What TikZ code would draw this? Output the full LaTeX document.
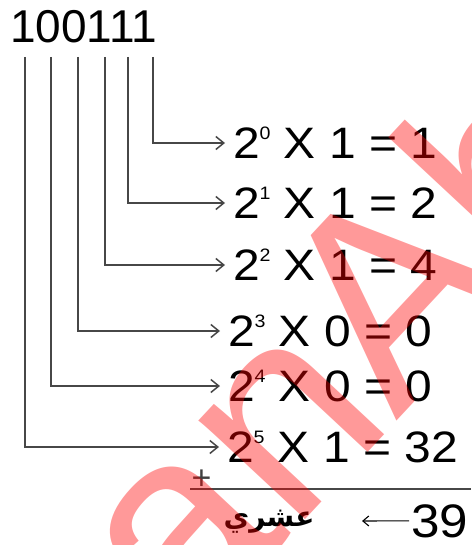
\documentclass[tikz,border=0pt]{standalone}
\usepackage{fontspec}
\setmainfont{Liberation Sans}
\newfontfamily\widefont[FakeStretch=1.09]{Liberation Sans}
\newfontfamily\arabicfont[Script=Arabic]{DejaVu Sans}
\TeXXeTstate=1
\usetikzlibrary{arrows.meta}
\newcommand\pw[1]{\raisebox{18.6pt}{\fontsize{18}{18}\selectfont #1}}
\begin{document}
\begin{tikzpicture}[x=1pt,y=-1pt,
  conn/.style={draw=black!72, line width=1.8pt,
    -{Straight Barb[length=8pt,width=13pt,line width=1.5pt]}},
  rowtxt/.style={anchor=west, inner sep=0pt, outer xsep=8pt,
    font=\widefont\fontsize{44}{44}\selectfont},
  wm/.style={inner sep=0pt, rotate=47, text=red, opacity=0.4,
    font=\fontsize{275}{275}\selectfont}]
\useasboundingbox (0,0) rectangle (471,545);
\clip (0,0) rectangle (471,545);
\fill[white] (0,0) rectangle (471,545);

% binary number
\node[anchor=base west, inner sep=0pt, font=\fontsize{46}{46}\selectfont] (num) at (10,43) {100111};
\coordinate (t1) at (25,57);
\coordinate (t2) at (51,57);
\coordinate (t3) at (78,57);
\coordinate (t4) at (105,57);
\coordinate (t5) at (128,57);
\coordinate (t6) at (153,57);

% rows
\node[rowtxt] (r0) at (225,143) {2\pw{0} X 1 = 1};
\node[rowtxt] (r1) at (225,203) {2\pw{1} X 1 = 2};
\node[rowtxt] (r2) at (225,265) {2\pw{2} X 1 = 4};
\node[rowtxt] (r3) at (220,331) {2\pw{3} X 0 = 0};
\node[rowtxt] (r4) at (220,386) {2\pw{4} X 0 = 0};
\node[rowtxt] (r5) at (219,447) {2\pw{5} X 1 = 32};

\draw[conn] (t6) |- (r0.west);
\draw[conn] (t5) |- (r1.west);
\draw[conn] (t4) |- (r2.west);
\draw[conn] (t3) |- (r3.west);
\draw[conn] (t2) |- (r4.west);
\draw[conn] (t1) |- (r5.west);

% sum
\node[inner sep=0pt, text=black!75, font=\fontsize{34}{34}\selectfont] (plus) at (201.5,480) {+};
\coordinate (hl) at (190,489);
\coordinate (hr) at (471,489);
\draw[black!72, line width=1.8pt] (hl) -- (hr);
\node[anchor=base west, inner sep=0pt, outer xsep=2pt, font=\widefont\fontsize{47}{47}\selectfont] (sum) at (409,537) {39};
\coordinate (ae) at (362,521);
\draw[black, line width=1.1pt, -{Straight Barb[length=6pt,width=10pt]}] (sum.west) -- (ae);
\node[inner sep=0pt, font=\arabicfont\bfseries\fontsize{28}{28}\selectfont] (dec) at (269,522) {\beginR عشري\endR};

% watermark
\node[wm, anchor=base west] (wmA) at (396.5,421.4) {Ah};
\node[wm, anchor=base east] (wmB) at (wmA.base west) {can\hspace{0.278em}};
\end{tikzpicture}
\end{document}
